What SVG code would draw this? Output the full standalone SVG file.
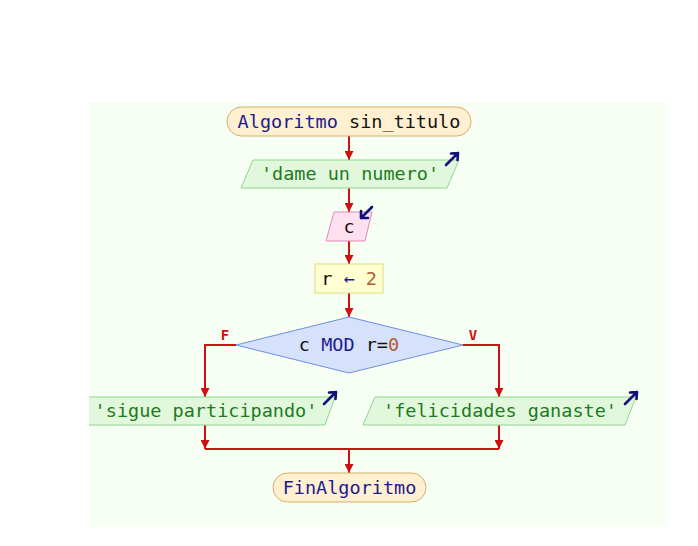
<svg xmlns="http://www.w3.org/2000/svg" width="698" height="546" viewBox="0 0 698 546">
<style>
text{font-family:"DejaVu Sans Mono","Liberation Mono",monospace;font-size:18.5px;dominant-baseline:central;text-anchor:middle}
.kw{fill:#1c1c8c}.id{fill:#111}.str{fill:#1e7a1e}.num{fill:#b35a2e}
.term{fill:#fff0d2;stroke:#d8ac68;stroke-width:1}
.io{fill:#e2f8dc;stroke:#8fd68f;stroke-width:1}
.in{fill:#ffe0f0;stroke:#e08ab8;stroke-width:1}
.proc{fill:#ffffd2;stroke:#dcdc7c;stroke-width:1}
.dec{fill:#d6e2fc;stroke:#6f8fe0;stroke-width:1}
.edge{fill:none;stroke:#cc1111;stroke-width:2}
.ico{fill:none;stroke:#10107a;stroke-width:2.6;stroke-linecap:round;stroke-linejoin:round}
.lbl{font-family:"DejaVu Sans Mono",monospace;font-size:14px;font-weight:bold;fill:#cc1111}
</style>
<defs>
<marker id="ah" viewBox="0 0 10 10" refX="10" refY="5" markerWidth="4.5" markerHeight="4.5" orient="auto" markerUnits="strokeWidth">
<path d="M0,0 L10,5 L0,10 z" fill="#cc1111"/>
</marker>
<clipPath id="bg"><rect x="89" y="102" width="579" height="425"/></clipPath>
</defs>
<rect x="89" y="102" width="579" height="425" fill="#f7fff4"/>
<g clip-path="url(#bg)">
<g id="connectors">
<path class="edge" d="M349,136 V160" marker-end="url(#ah)"/>
<path class="edge" d="M349,188 V212" marker-end="url(#ah)"/>
<path class="edge" d="M349,241 V264" marker-end="url(#ah)"/>
<path class="edge" d="M349,293 V317" marker-end="url(#ah)"/>
<path class="edge" d="M236,345 H205 V397" marker-end="url(#ah)"/>
<path class="edge" d="M463,345 H499 V397" marker-end="url(#ah)"/>
<path class="edge" d="M205,425 V449" marker-end="url(#ah)"/>
<path class="edge" d="M499,425 V449" marker-end="url(#ah)"/>
<path class="edge" d="M205,449 H499"/>
<path class="edge" d="M349,449 V473" marker-end="url(#ah)"/>
<text class="lbl" x="225" y="334.5">F</text>
<text class="lbl" x="473" y="334.5">V</text>
</g>
<g id="start">
<rect class="term" x="227" y="107" width="244" height="29" rx="14.5"/>
<text x="349" y="121"><tspan class="kw">Algoritmo</tspan><tspan class="id"> sin_titulo</tspan></text>
</g>
<g id="out1">
<polygon class="io" points="253,160 459,160 447,188 241,188"/>
<text class="str" x="350" y="173.5">'dame un numero'</text>
<path class="ico" d="M446,165 L458,153 M451,153.5 L458,153 L457.5,160"/>
</g>
<g id="in1">
<polygon class="in" points="334,212 372,212 365,241 326,241"/>
<text class="id" x="349" y="226">c</text>
<path class="ico" d="M372,207 L361,218 M361,211 L361,218 L368,218"/>
</g>
<g id="assign">
<rect class="proc" x="315" y="264" width="68" height="29"/>
<text x="349" y="278"><tspan class="id">r</tspan><tspan class="kw"> ← </tspan><tspan class="num">2</tspan></text>
</g>
<g id="cond">
<polygon class="dec" points="349,317 463,345 349,373 236,345"/>
<text x="349" y="344"><tspan class="id">c </tspan><tspan class="kw">MOD</tspan><tspan class="id"> r=</tspan><tspan class="num">0</tspan></text>
</g>
<g id="outF">
<polygon class="io" points="85,397 335,397 325,425 75,425"/>
<text class="str" x="206" y="410.5">'sigue participando'</text>
<path class="ico" d="M324,404 L336,392 M329,392.5 L336,392 L335.5,399"/>
</g>
<g id="outV">
<polygon class="io" points="375,397 636,397 625,425 363,425"/>
<text class="str" x="500" y="410.5">'felicidades ganaste'</text>
<path class="ico" d="M625,404 L637,392 M630,392.5 L637,392 L636.5,399"/>
</g>
<g id="end">
<rect class="term" x="273" y="473" width="153" height="29" rx="14.5"/>
<text class="kw" x="349.5" y="487">FinAlgoritmo</text>
</g>
</g>
</svg>
